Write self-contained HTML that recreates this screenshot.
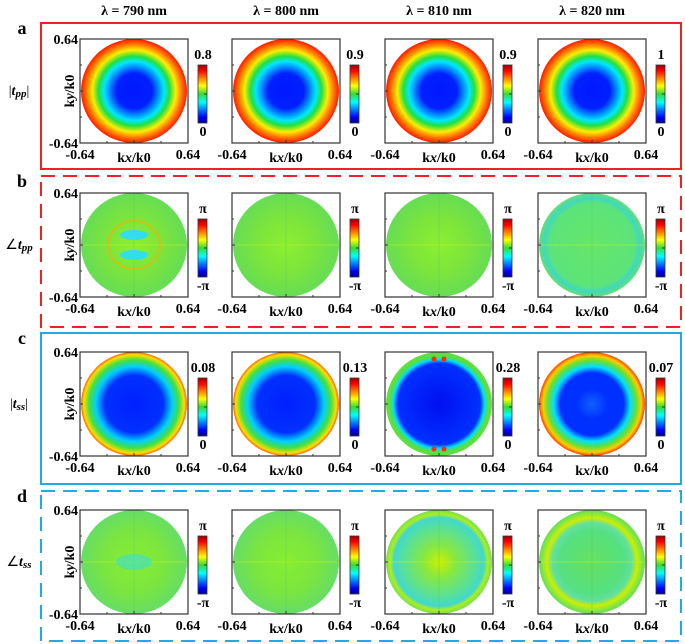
<!DOCTYPE html>
<html><head><meta charset="utf-8"><style>
body{margin:0;background:#fff}
svg{display:block;font-family:"Liberation Serif",serif;font-weight:bold}
</style></head><body>
<svg id="fig" width="685" height="644" viewBox="0 0 685 644" xmlns="http://www.w3.org/2000/svg">
<defs>
<linearGradient id="jet" x1="0" y1="1" x2="0" y2="0">
<stop offset="0" stop-color="#00008f"/><stop offset="0.1" stop-color="#0000ff"/><stop offset="0.36" stop-color="#00ffff"/><stop offset="0.5" stop-color="#33dd33"/><stop offset="0.64" stop-color="#ffff00"/><stop offset="0.9" stop-color="#ff0000"/><stop offset="1" stop-color="#a00000"/>
</linearGradient>
<radialGradient id="gA"><stop offset="0" stop-color="#0018ff"/><stop offset="0.34" stop-color="#0020ff"/><stop offset="0.57" stop-color="#00e8ff"/><stop offset="0.67" stop-color="#22e040"/><stop offset="0.79" stop-color="#ffee00"/><stop offset="0.9" stop-color="#ff7700"/><stop offset="1" stop-color="#ff1a00"/></radialGradient>
<radialGradient id="gB1"><stop offset="0" stop-color="#8cf030"/><stop offset="0.5" stop-color="#7ee53a"/><stop offset="1" stop-color="#66dd55"/></radialGradient>
<radialGradient id="gB4"><stop offset="0" stop-color="#66e66a"/><stop offset="0.8" stop-color="#5ce47a"/><stop offset="0.9" stop-color="#40d8c0"/><stop offset="1" stop-color="#66e070"/></radialGradient>
<radialGradient id="gC1"><stop offset="0" stop-color="#0020ff"/><stop offset="0.55" stop-color="#0030ff"/><stop offset="0.72" stop-color="#00d0ff"/><stop offset="0.85" stop-color="#44e040"/><stop offset="0.95" stop-color="#ffdd00"/><stop offset="1" stop-color="#ff6000"/></radialGradient>
<radialGradient id="gC3"><stop offset="0" stop-color="#0010f0"/><stop offset="0.78" stop-color="#0030ff"/><stop offset="0.86" stop-color="#00e0ff"/><stop offset="0.92" stop-color="#55e040"/><stop offset="1" stop-color="#66dd44"/></radialGradient>
<radialGradient id="gC4"><stop offset="0" stop-color="#1060ff"/><stop offset="0.3" stop-color="#0030ff"/><stop offset="0.6" stop-color="#0030ff"/><stop offset="0.72" stop-color="#00e0ff"/><stop offset="0.84" stop-color="#66e030"/><stop offset="0.93" stop-color="#ffcc00"/><stop offset="1" stop-color="#ff4000"/></radialGradient>
<radialGradient id="gD1"><stop offset="0" stop-color="#88ee30"/><stop offset="0.6" stop-color="#7ae540"/><stop offset="1" stop-color="#66dd66"/></radialGradient>
<radialGradient id="gD3"><stop offset="0" stop-color="#ccf000"/><stop offset="0.3" stop-color="#88e840"/><stop offset="0.7" stop-color="#55e0a0"/><stop offset="0.85" stop-color="#40d8d0"/><stop offset="0.92" stop-color="#aaee20"/><stop offset="1" stop-color="#77e050"/></radialGradient>
<radialGradient id="gD4"><stop offset="0" stop-color="#66e060"/><stop offset="0.6" stop-color="#55e080"/><stop offset="0.75" stop-color="#60e0a0"/><stop offset="0.85" stop-color="#ccee00"/><stop offset="0.93" stop-color="#88e840"/><stop offset="1" stop-color="#66dd55"/></radialGradient>
</defs>
</svg>
<script>
const wavelengths = ["790","800","810","820"];
const rowLetters = ["a","b","c","d"];
const rowQuantity = ["tpp","tpp","tss","tss"];
const rowIsPhase = [false,true,false,true];
const cbMaxA = ["0.8","0.9","0.9","1"];
const cbMaxC = ["0.08","0.13","0.28","0.07"];
const axisTicks = ["-0.64","0.64"];
const fills = [["gA","gA","gA","gA"],["gB1","gB1","gB1","gB4"],["gC1","gC1","gC3","gC4"],["gD1","gD1","gD3","gD4"]];

const NS="http://www.w3.org/2000/svg";
const svg=document.getElementById('fig');
function mk(tag,attrs,parent,text){const e=document.createElementNS(NS,tag);for(const k in attrs)e.setAttribute(k,attrs[k]);if(text!==undefined)e.textContent=text;(parent||svg).appendChild(e);return e;}

const colX=[80,232,385,538];
const rowY=[39,193,352,510];
const PW=108, PH=104;
const boxes=[[23,169,"#ee2222",false],[176,327,"#ee2222",true],[333,484,"#22aae6",false],[491,641,"#22aae6",true]];

wavelengths.forEach((w,i)=>{
  const t=mk('text',{x:colX[i]+54,y:15,'text-anchor':'middle','font-size':14},svg,'λ = '+w+' nm');
  
  
});

boxes.forEach((b,r)=>{
  const rect=mk('rect',{x:41,y:b[0],width:640,height:b[1]-b[0],fill:'none',stroke:b[2],'stroke-width':2,'stroke-dasharray':b[3]?'14 8':'none'});
  
  
  const l=mk('text',{x:22,y:b[0]+11,'text-anchor':'middle','font-size':18},svg,rowLetters[r]);
  
  
  const q=mk('text',{x:19,y:rowY[r]+56,'text-anchor':'middle','font-size':14},svg);
  
  
  const sub=rowQuantity[r].slice(1);
  if(rowIsPhase[r]){mk('tspan',{'font-weight':'normal'},q,'∠');mk('tspan',{'font-style':'italic'},q,'t');mk('tspan',{'font-style':'italic','font-size':11,dy:2},q,sub);}
  else{mk('tspan',{'font-weight':'normal'},q,'|');mk('tspan',{'font-style':'italic'},q,'t');mk('tspan',{'font-style':'italic','font-size':11,dy:2},q,sub);mk('tspan',{'font-weight':'normal',dy:-2},q,'|');}

  colX.forEach((x,c)=>{
    const y=rowY[r];
    const g=mk('g',{});
    
    
    const cx=x+PW/2, cy=y+PH/2;
    const disk=mk('ellipse',{cx:cx,cy:cy,rx:PW/2-1,ry:PH/2,fill:'url(#'+fills[r][c]+')'},g);
    
    
    if(rowIsPhase[r]){
      mk('line',{x1:cx-PW/2,y1:cy,x2:cx+PW/2,y2:cy,stroke:'#c8f020','stroke-width':1,opacity:0.5},g);
      mk('line',{x1:cx,y1:y,x2:cx,y2:y+PH,stroke:'#55cc66','stroke-width':1.2,opacity:0.35},g);
      if(r===1&&c===0){
        mk('ellipse',{cx:cx,cy:cy,rx:26,ry:24,fill:'none',stroke:'#ffaa00','stroke-width':2,opacity:0.6},g);
        mk('ellipse',{cx:cx,cy:cy-10,rx:14,ry:5,fill:'#33ddee'},g);
        mk('ellipse',{cx:cx,cy:cy+10,rx:14,ry:5,fill:'#33ddee'},g);
      }
      if(r===3&&c===0){
        mk('ellipse',{cx:cx,cy:cy,rx:18,ry:8,fill:'#44e0c0',opacity:0.7},g);
      }
    } else if(r===2&&c===2){
      [[-5,-45],[5,-45],[-5,45],[5,45]].forEach(p=>mk('circle',{cx:cx+p[0],cy:cy+p[1],r:2.5,fill:'#ff3000'},g));
    }
    const frame=mk('rect',{x:x,y:y,width:PW,height:PH,fill:'none',stroke:'#333','stroke-width':1.2});
    
    
    [0.25,0.5,0.75].forEach(f=>{
      mk('line',{x1:x+PW*f,y1:y+PH,x2:x+PW*f,y2:y+PH-(f===0.5?3:2),stroke:'#333'});
      mk('line',{x1:x,y1:y+PH*f,x2:x+(f===0.5?3:2),y2:y+PH*f,stroke:'#333'});
    });
    const fs=14;
    const tl=mk('text',{x:x,y:y+PH+16,'text-anchor':'middle','font-size':fs},svg,axisTicks[0]);
    
    const tr=mk('text',{x:x+PW,y:y+PH+16,'text-anchor':'middle','font-size':fs},svg,axisTicks[1]);
    
    const xt=mk('text',{x:x+PW/2,y:y+PH+19,'text-anchor':'middle','font-size':fs},svg);
    
    mk('tspan',{},xt,'k');mk('tspan',{'font-style':'italic'},xt,'x');mk('tspan',{},xt,'/k0');
    if(c===0){
      const yt1=mk('text',{x:x-2,y:y+5,'text-anchor':'end','font-size':fs},svg,axisTicks[1]);
      
      const yt0=mk('text',{x:x-2,y:y+PH+5,'text-anchor':'end','font-size':fs},svg,axisTicks[0]);
      
      const ya=mk('text',{x:0,y:0,'text-anchor':'middle','font-size':fs,transform:'translate('+(x-6)+','+(y+PH/2)+') rotate(-90)'},svg);
      
      mk('tspan',{},ya,'k');mk('tspan',{'font-style':'italic'},ya,'y');mk('tspan',{},ya,'/k0');
    }
    const bx=x+118, by=y+26, bh=58;
    const cb=mk('rect',{x:bx,y:by,width:9,height:bh,fill:'url(#jet)',stroke:'#333','stroke-width':0.8});
    
    mk('line',{x1:bx+9,y1:by+bh/2,x2:bx+6,y2:by+bh/2,stroke:'#333'});
    let top,bot;
    if(rowIsPhase[r]){top='π';bot='-π';}
    else{top=(r===0?cbMaxA:cbMaxC)[c];bot='0';}
    const ct=mk('text',{x:bx+5,y:by-6,'text-anchor':'middle','font-size':14},svg,top);
    
    const cbt=mk('text',{x:bx+5,y:by+bh+13,'text-anchor':'middle','font-size':14},svg,bot);
    
  });
});
</script>
</body></html>
